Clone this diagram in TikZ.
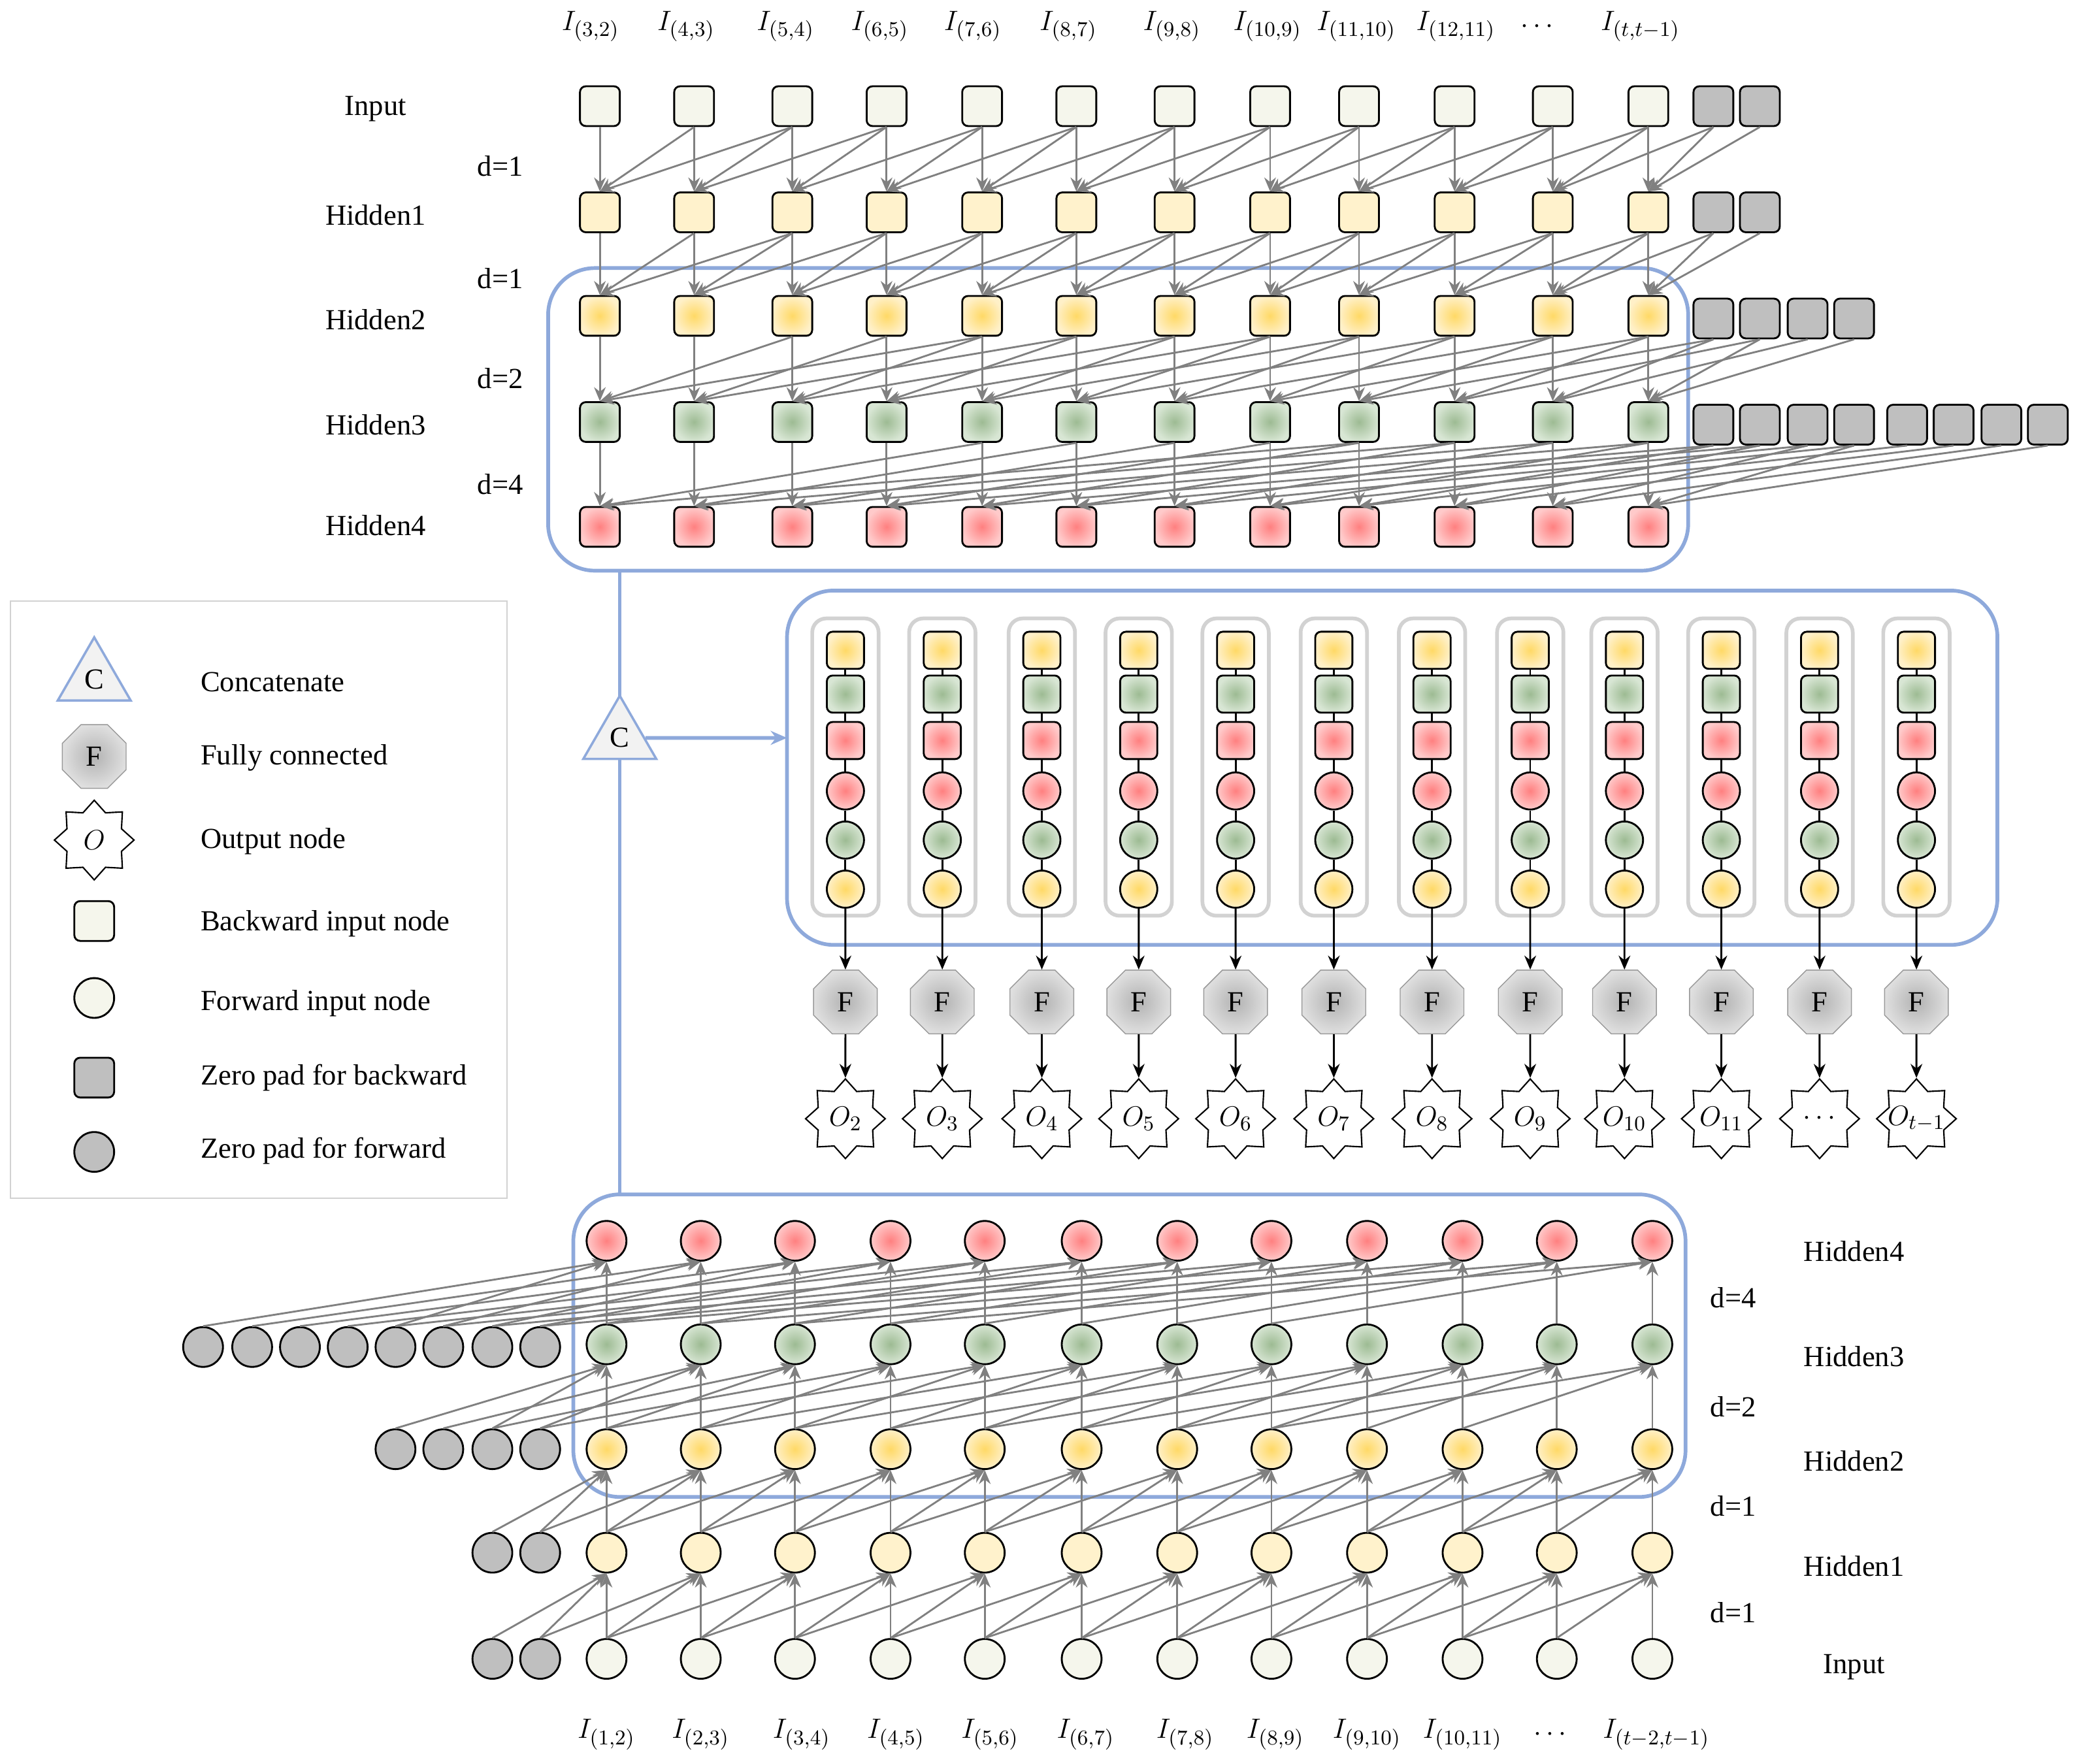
\documentclass[tikz,border=0pt]{standalone}
\usepackage{fontspec}
\setmainfont{Liberation Serif}
\usetikzlibrary{shapes.geometric,arrows.meta}
\definecolor{cInp}{HTML}{F5F6EC}
\definecolor{cH1}{HTML}{FFF2CC}
\definecolor{cH2i}{HTML}{FFD966}
\definecolor{cH2o}{HTML}{FFF0C8}
\definecolor{cH3i}{HTML}{9DBB93}
\definecolor{cH3o}{HTML}{D8E6D4}
\definecolor{cH4i}{HTML}{FF8080}
\definecolor{cH4o}{HTML}{FFCACA}
\definecolor{cPad}{HTML}{BFBFBF}
\definecolor{cBlue}{HTML}{8EA9DB}
\begin{document}
\begin{tikzpicture}[x=0.02cm,y=-0.02cm,font=\fontsize{12.5}{14}\selectfont,
 base/.style={draw=black,line width=0.8pt,minimum size=0.6cm,inner sep=0pt},
 sq/.style={base,rectangle,rounded corners=2.5pt},
 ci/.style={base,circle},
 inp/.style={fill=cInp}, h1/.style={fill=cH1},
 h2/.style={inner color=cH2i,outer color=cH2o},
 h3/.style={inner color=cH3i,outer color=cH3o},
 h4/.style={inner color=cH4i,outer color=cH4o},
 pad/.style={fill=cPad},
 con/.style={draw=gray,line width=0.8pt,-{Stealth[length=6pt,width=5pt]}},
 bk/.style={draw=black,line width=0.8pt,-{Stealth[length=6pt,width=5pt]}},
 bbox/.style={draw=cBlue,line width=1.6pt,rounded corners=20pt},
 fc/.style={regular polygon,regular polygon sides=8,minimum size=1.04cm,inner sep=0pt,draw=gray!80,inner color=gray!60,outer color=gray!25},
 outn/.style={star,star points=8,star point ratio=1.35,minimum size=1.2cm,inner sep=0pt,draw=black,line width=0.6pt,fill=white},
 tri/.style={regular polygon,regular polygon sides=3,minimum size=1.27cm,inner sep=0pt,draw=cBlue,line width=1pt,fill=gray!10}]
\useasboundingbox (0,0) rectangle (1568,1329);
% ---------- top (backward) ----------
\draw[bbox] (413,202) rectangle (1272,430);
\foreach \x [count=\i] in {452,523,597,668,740,811,885,957,1024,1096,1170,1242}{
 \foreach \y/\r/\st in {80/0/inp,160/1/h1,238/2/h2,318/3/h3,397/4/h4}
  \node[sq,\st] (t\r-\i) at (\x,\y) {};}
\foreach \x [count=\k from 13] in {1291,1326}{
 \node[sq,pad] (t0-\k) at (\x,80) {};
 \node[sq,pad] (t1-\k) at (\x,160) {};}
\foreach \x [count=\k from 13] in {1291,1326,1362,1397}
 \node[sq,pad] (t2-\k) at (\x,240) {};
\foreach \x [count=\k from 13] in {1291,1326,1362,1397,1437,1472,1508,1543}
 \node[sq,pad] (t3-\k) at (\x,320) {};
\foreach \r/\n/\d in {0/1/1,1/2/1,2/3/2,3/4/4}
 \foreach \i in {1,...,12}
  \foreach \m in {0,1,2}{
   \pgfmathtruncatemacro\s{\i+\m*\d}
   \draw[con] (t\r-\s.south) -- (t\n-\i.north);}
\foreach \y/\t in {82/Input,162/Hidden1,241/Hidden2,320/Hidden3,396/Hidden4}
 \node (lt\y) at (283,\y) {\t};
\foreach \y in {125,210} \node (dt\y) at (377,\y) {d=1};
\node (dt285) at (377,285) {d=2};
\node (dt365) at (377,365) {d=4};
\foreach \x/\t [count=\i] in {445/{$I_{(3,2)}$},517/{$I_{(4,3)}$},592/{$I_{(5,4)}$},663/{$I_{(6,5)}$},733/{$I_{(7,6)}$},805/{$I_{(8,7)}$},883/{$I_{(9,8)}$},955/{$I_{(10,9)}$},1022/{$I_{(11,10)}$},1097/{$I_{(12,11)}$},1158/{$\cdots$},1236/{$I_{(t,t-1)}$}}
 \node (it\i) at (\x,20) {\t};
% ---------- bottom (forward) ----------
\draw[bbox] (432,900) rectangle (1270,1128);
\foreach \x [count=\i] in {457,528,599,671,742,815,887,958,1030,1102,1173,1245}{
 \foreach \y/\r/\st in {1250/0/inp,1170/1/h1,1092/2/h2,1013/3/h3,935/4/h4}
  \node[ci,\st] (b\r-\i) at (\x,\y) {};}
\foreach \x [count=\k] in {407,371}{
 \node[ci,pad] (b0-p\k) at (\x,1250) {};
 \node[ci,pad] (b1-p\k) at (\x,1170) {};}
\foreach \x [count=\k] in {407,371,334,298}
 \node[ci,pad] (b2-p\k) at (\x,1092) {};
\foreach \x [count=\k] in {407,371,334,298,262,226,190,153}
 \node[ci,pad] (b3-p\k) at (\x,1015) {};
\foreach \r/\n/\d in {0/1/1,1/2/1,2/3/2,3/4/4}
 \foreach \i in {1,...,12}
  \foreach \m in {0,1,2}{
   \pgfmathtruncatemacro\s{\i-\m*\d}
   \ifnum\s<1 \pgfmathtruncatemacro\c{1-\s}\edef\src{b\r-p\c}\else\edef\src{b\r-\s}\fi
   \draw[con] (\src.north) -- (b\n-\i.south);}
\foreach \y/\t in {943/Hidden4,1022/Hidden3,1101/Hidden2,1180/Hidden1,1256/Input}
 \node (lb\y) at (1397,\y) {\t};
\node (db978) at (1306,978) {d=4};
\node (db1060) at (1306,1060) {d=2};
\foreach \y in {1135,1215} \node (db\y) at (1306,\y) {d=1};
\foreach \x/\t [count=\i] in {457/{$I_{(1,2)}$},528/{$I_{(2,3)}$},604/{$I_{(3,4)}$},675/{$I_{(4,5)}$},746/{$I_{(5,6)}$},818/{$I_{(6,7)}$},893/{$I_{(7,8)}$},961/{$I_{(8,9)}$},1030/{$I_{(9,10)}$},1102/{$I_{(10,11)}$},1168/{$\cdots$},1248/{$I_{(t-2,t-1)}$}}
 \node (ib\i) at (\x,1307) {\t};
% ---------- middle ----------
\draw[bbox] (593,445) rectangle (1505,712);
\foreach \x/\o [count=\i] in {637/{$O_2$},710/{$O_3$},785/{$O_4$},858/{$O_5$},931/{$O_6$},1005/{$O_7$},1079/{$O_8$},1153/{$O_9$},1224/{$O_{10}$},1297/{$O_{11}$},1371/{$\cdots$},1444/{$O_{t-1}$}}{
 \draw[draw=gray!35,line width=1.6pt,rounded corners=6pt] (\x-25,466) rectangle (\x+25,690);
 \node[sq,h2,minimum size=0.56cm] (m1-\i) at (\x,490) {};
 \node[sq,h3,minimum size=0.56cm] (m2-\i) at (\x,523) {};
 \node[sq,h4,minimum size=0.56cm] (m3-\i) at (\x,558) {};
 \node[ci,h4,minimum size=0.56cm] (m4-\i) at (\x,596) {};
 \node[ci,h3,minimum size=0.56cm] (m5-\i) at (\x,633) {};
 \node[ci,h2,minimum size=0.56cm] (m6-\i) at (\x,670) {};
 \draw[line width=0.8pt] (m1-\i)--(m2-\i)--(m3-\i)--(m4-\i)--(m5-\i)--(m6-\i);
 \node[fc] (f\i) at (\x,755) {F};
 \node[outn] (o\i) at (\x,843) {\makebox[0pt]{\o}};
 \draw[bk] (m6-\i) -- (f\i);
 \draw[bk] (f\i) -- (o\i);}
% ---------- concatenate ----------
\coordinate (topb) at (467,430);
\coordinate (botb) at (467,900);
\draw[draw=cBlue,line width=1.6pt] (topb) -- (botb);
\node[tri] (cc) at (467,556) {C};
\coordinate (mid) at (593,556);
\draw[draw=cBlue,line width=1.6pt,-{Stealth[length=7pt,width=6pt]}] (cc.east) -- (mid);
% ---------- legend ----------
\draw[draw=gray!35,line width=0.6pt] (8,453) rectangle (382,903);
\node[tri] (lg1) at (71,512) {C};
\node[fc] (lg2) at (71,570) {F};
\node[outn] (lg3) at (71,633) {$O$};
\node[sq,inp] (lg4) at (71,694) {};
\node[ci,fill=cInp] (lg5) at (71,752) {};
\node[sq,pad] (lg6) at (71,812) {};
\node[ci,pad] (lg7) at (71,868) {};
\foreach \y/\t in {514/Concatenate,571/Fully connected,634/Output node,696/Backward input node,756/Forward input node,812/Zero pad for backward,867/Zero pad for forward}
 \node[anchor=west] (lt\y) at (145,\y) {\t};
\end{tikzpicture}
\end{document}
